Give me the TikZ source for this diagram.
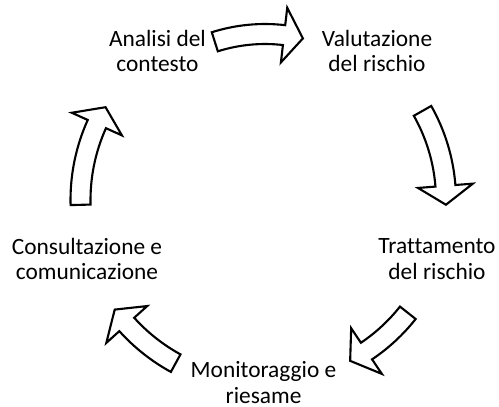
\documentclass[tikz,border=0pt]{standalone}
\usepackage{fontspec}
\setmainfont{Carlito}[Ligatures=NoCommon]
\usepackage{tikz}

% block arrow on the cycle: radius, tail angle, head base angle, tip angle
\newcommand{\cyclearrow}[4]{%
  \draw[blockarrow] ({#2}:{#1+10}) arc[start angle=#2, end angle=#3, radius=#1+10]
    -- ({#3}:{#1+27.5}) -- ({#4}:{#1}) -- ({#3}:{#1-27.5}) -- ({#3}:{#1-10})
    arc[start angle=#3, end angle=#2, radius=#1-10] -- cycle;}

\begin{document}
\begin{tikzpicture}[scale=0.02,
  stage/.style={align=center, font=\fontsize{13.3}{14.75}\selectfont, inner sep=0pt},
  blockarrow/.style={draw=black, fill=white, line width=1.2pt}]
\useasboundingbox (-265,-207) rectangle (234,200);
\node[stage] (analisi) at (-107.5,149) {Analisi del\\contesto};
\node[stage] (valutazione) at (112,149) {Valutazione\\del rischio};
\node[stage] (trattamento) at (172,-59) {Trattamento\\del rischio};
\node[stage] (monitoraggio) at (-1.5,-182.5) {Monitoraggio e\\riesame};
\node[stage] (consultazione) at (-178,-59) {Consultazione e\\comunicazione};
\cyclearrow{166}{107.6}{83.4}{76.8}
\cyclearrow{181}{29.5}{4.5}{-1.5}
\cyclearrow{182}{-38.3}{-56.1}{-62.1}
\cyclearrow{186}{-118.7}{-138}{-143.9}
\cyclearrow{184.5}{181.5}{155.7}{149.8}
\end{tikzpicture}
\end{document}
